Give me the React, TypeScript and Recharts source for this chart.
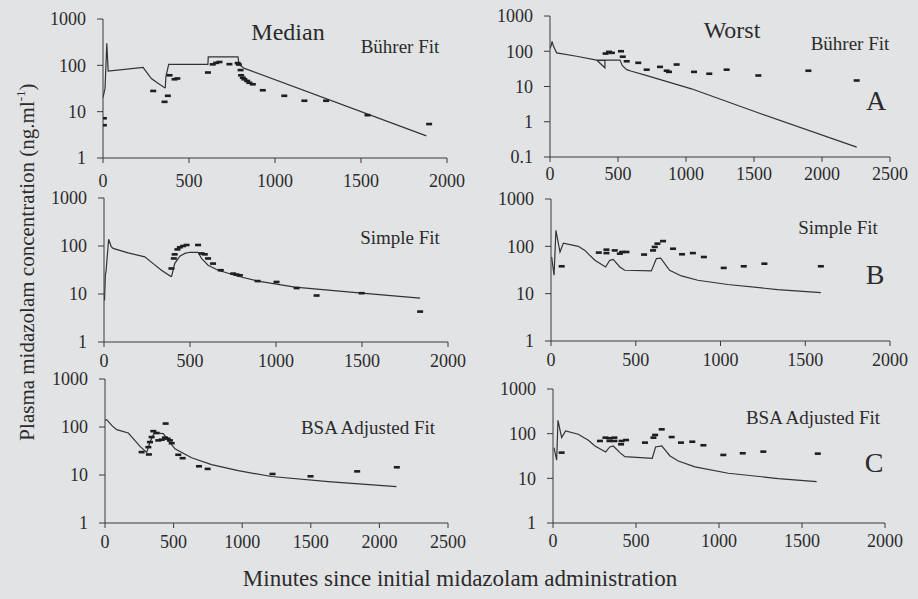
import { ComposedChart, Line, Scatter, XAxis, YAxis } from 'recharts';

type Pt = { t: number; v: number };
const toPts = (rows: number[][]): Pt[] => rows.map(([t, v]) => ({ t, v }));

// tick labels
const xTicks2000 = [0, 500, 1000, 1500, 2000];
const xTicks2500 = [0, 500, 1000, 1500, 2000, 2500];
const yTicks = [1, 10, 100, 1000];
const yTicksWide = [0.1, 1, 10, 100, 1000];

// [minutes, ng/ml]
const medianBuhrerFit = [
  [0, 20], [12, 32], [22, 300], [30, 75], [233, 90], [252, 72], [281, 52], [320, 41], [358, 33],
  [362, 33], [366, 58], [382, 105], [610, 105], [612, 152], [785, 152], [790, 105], [822, 86], [1880, 3.0],
];
const medianBuhrerObs = [
  [5, 7.2], [5, 5.1], [292, 28], [358, 16.3], [377, 22], [387, 61], [416, 50], [432, 52], [610, 70],
  [638, 105], [658, 113], [677, 118], [735, 106], [783, 112], [790, 104], [800, 79], [803, 61], [813, 54],
  [822, 50], [838, 46], [851, 42], [871, 39], [929, 29], [1054, 22], [1171, 17.2], [1297, 17.2],
  [1538, 8.4], [1896, 5.4],
];

const worstBuhrerFit = [
  [0, 120], [10, 150], [15, 190], [25, 140], [37, 112], [49, 90], [196, 72], [343, 56], [404, 56],
  [404, 34], [348, 54], [404, 56], [515, 56], [532, 39], [564, 30], [600, 27], [700, 21], [1040, 8.6],
  [1530, 1.8], [2255, 0.19],
];
const worstBuhrerObs = [
  [409, 86], [434, 96], [455, 90], [522, 100], [535, 70], [564, 52], [649, 47], [711, 30], [809, 36],
  [858, 28], [875, 26], [931, 42], [1059, 26], [1171, 23], [1299, 30], [1532, 20.5], [1900, 28], [2255, 14.8],
];

const medianSimpleFit = [
  [3, 7.3], [8, 25], [12, 30], [27, 138], [42, 97], [53, 89], [140, 72], [237, 59.5], [286, 43],
  [334, 31.2], [388, 23.4], [393, 23.4], [411, 43], [441, 61.6], [470, 70], [499, 74], [547, 74],
  [567, 55], [605, 39.8], [664, 31.2], [780, 23.4], [896, 18.6], [1110, 13.9], [1498, 10.4], [1838, 8.2],
];
const medianSimpleObs = [
  [392, 34], [406, 55], [411, 67], [427, 85], [441, 94], [460, 100], [480, 105], [547, 105], [567, 70],
  [586, 67], [605, 55], [634, 43], [679, 31.3], [751, 26.6], [770, 25.4], [790, 24.5], [893, 18.6],
  [1003, 17.8], [1120, 13.3], [1236, 9.3], [1498, 10.4], [1838, 4.3],
];

const worstSimpleFit = [
  [4, 59.5], [18, 24.5], [29, 217], [53, 75.8], [73, 117], [161, 100], [200, 82], [229, 64.6], [259, 50.7],
  [322, 36.6], [347, 50.7], [367, 53], [406, 36.6], [435, 31.2], [592, 30.2], [622, 55], [647, 56.6],
  [700, 31.2], [769, 23.7], [866, 19.2], [1043, 15.6], [1337, 12.2], [1592, 10.5],
];
const worstSimpleObs = [
  [63, 37.9], [282, 73.7], [327, 85], [327, 72], [376, 82], [406, 70], [420, 76], [445, 76], [549, 67],
  [602, 82], [612, 97], [628, 114], [661, 129], [720, 89], [773, 68], [837, 72], [902, 59.5], [1019, 35],
  [1137, 37.9], [1259, 43], [1592, 37.9],
];

const medianBsaFit = [
  [0, 138], [12, 142], [49, 108], [85, 88], [170, 75], [206, 57], [255, 39.4], [304, 29.6], [328, 48.5],
  [359, 75], [425, 73], [461, 52.6], [510, 35], [631, 22.8], [777, 16.5], [971, 12.3], [1214, 9.3],
  [1627, 7.3], [2124, 5.7],
];
const medianBsaObs = [
  [267, 30], [320, 26.8], [316, 38.1], [328, 48.5], [340, 61.7], [352, 82], [376, 75], [388, 52.6],
  [413, 54.4], [442, 118], [437, 60], [456, 57], [473, 52.6], [486, 46], [534, 26.4], [566, 22.4],
  [685, 15.2], [748, 13.4], [1221, 10.5], [1498, 9.4], [1838, 11.9], [2127, 14.5],
];

const worstBsaFit = [
  [6, 48.6], [22, 25.4], [30, 199], [52, 81.4], [76, 115], [152, 97], [213, 71], [253, 53], [317, 39],
  [342, 50.4], [363, 53], [403, 37.6], [433, 30.6], [598, 28.1], [618, 50.4], [655, 53], [705, 31.7],
  [755, 24.5], [855, 18], [1056, 13], [1357, 9.9], [1588, 8.4],
];
const worstBsaObs = [
  [52, 37.6], [283, 68.6], [316, 81.4], [340, 79], [370, 81.4], [340, 68.6], [370, 68.6], [413, 68.6],
  [440, 72], [410, 57.8], [554, 63], [605, 81.4], [615, 93.5], [655, 125], [715, 84], [771, 63],
  [839, 66], [906, 55], [1026, 33.4], [1143, 36.4], [1267, 39.6], [1595, 35.7],
];

const FONT = '"Liberation Serif", "DejaVu Serif", serif';
const INK = '#2b2b2b';

const Dash = (props: any) => {
  const { cx, cy } = props;
  if (cx == null || cy == null) return null;
  return <rect x={cx - 3} y={cy - 1.3} width={6} height={2.6} fill="#1e1e1e" />;
};

type PanelProps = {
  box: number[]; // plot area: left, right, top, bottom (page px)
  xTicks: number[];
  yTicks: number[];
  fit: number[][];
  obs: number[][];
  xGap: number;
};

function Panel({ box, xTicks, yTicks, fit, obs, xGap }: PanelProps) {
  const [x0, x1, y0, y1] = box;
  const yw = 60, mr = 24, mt = 12, xh = 34;
  const w = x1 - x0 + yw + mr;
  const h = y1 - y0 + mt + xh;
  const tick = { fill: INK, fontSize: 18, fontFamily: FONT };
  return (
    <div style={{ position: 'absolute', left: x0 - yw, top: y0 - mt }}>
      <ComposedChart
        width={w} height={h} margin={{ top: mt, right: mr, bottom: 0, left: 0 }}
        style={{ fontFamily: FONT }}
      >
        <XAxis
          type="number" dataKey="t" domain={[0, xTicks[xTicks.length - 1]]} ticks={xTicks}
          height={xh} allowDataOverflow tick={tick} tickSize={5} tickMargin={xGap - 5}
          stroke="#3a3a3a" interval={0}
        />
        <YAxis
          type="number" dataKey="v" scale="log" domain={[yTicks[0], 1000]} ticks={yTicks}
          width={yw} allowDataOverflow tick={tick} tickSize={6} tickMargin={11}
          stroke="#3a3a3a" interval={0}
        />
        <Line
          data={toPts(fit)} dataKey="v" type="linear" dot={false} stroke="#333"
          strokeWidth={1.2} isAnimationActive={false}
        />
        <Scatter data={toPts(obs)} dataKey="v" shape={Dash} isAnimationActive={false} />
      </ComposedChart>
    </div>
  );
}

export default function App() {
  return (
    <div
      style={{
        position: 'absolute', left: 0, top: 0, width: 918, height: 599, overflow: 'hidden',
        background: '#e2e3e5', fontFamily: FONT,
      }}
    >
      <Panel box={[103, 447, 19, 158]} xTicks={xTicks2000} yTicks={yTicks} fit={medianBuhrerFit} obs={medianBuhrerObs} xGap={16} />
      <Panel box={[550, 890, 16, 157]} xTicks={xTicks2500} yTicks={yTicksWide} fit={worstBuhrerFit} obs={worstBuhrerObs} xGap={10} />
      <Panel box={[104, 448, 198, 342]} xTicks={xTicks2000} yTicks={yTicks} fit={medianSimpleFit} obs={medianSimpleObs} xGap={12} />
      <Panel box={[551, 890, 199, 341]} xTicks={xTicks2000} yTicks={yTicks} fit={worstSimpleFit} obs={worstSimpleObs} xGap={12} />
      <Panel box={[105, 448, 379, 523]} xTicks={xTicks2500} yTicks={yTicks} fit={medianBsaFit} obs={medianBsaObs} xGap={12} />
      <Panel box={[553, 885, 389, 523]} xTicks={xTicks2000} yTicks={yTicks} fit={worstBsaFit} obs={worstBsaObs} xGap={11} />

      <svg width={918} height={599} style={{ position: 'absolute', left: 0, top: 0, pointerEvents: 'none' }}>
        <g fill={INK} fontFamily={FONT} textAnchor="middle" dominantBaseline="central">
          <text x={288} y={32} fontSize={24}>Median</text>
          <text x={400} y={46} fontSize={19}>Bührer Fit</text>
          <text x={732} y={30} fontSize={24}>Worst</text>
          <text x={850} y={43} fontSize={19}>Bührer Fit</text>
          <text x={876} y={100} fontSize={28}>A</text>
          <text x={400} y={237} fontSize={19}>Simple Fit</text>
          <text x={838} y={227} fontSize={19}>Simple Fit</text>
          <text x={875} y={274} fontSize={28}>B</text>
          <text x={368} y={427} fontSize={19}>BSA Adjusted Fit</text>
          <text x={813} y={417} fontSize={19}>BSA Adjusted Fit</text>
          <text x={874} y={462} fontSize={28}>C</text>
          <text x={460} y={578} fontSize={23}>Minutes since initial midazolam administration</text>
          <text x={27} y={262} fontSize={21} transform="rotate(-90 27 262)">
            Plasma midazolam concentration (ng.ml<tspan dy={-7} fontSize={13}>-1</tspan><tspan dy={7}>)</tspan>
          </text>
        </g>
      </svg>
    </div>
  );
}
